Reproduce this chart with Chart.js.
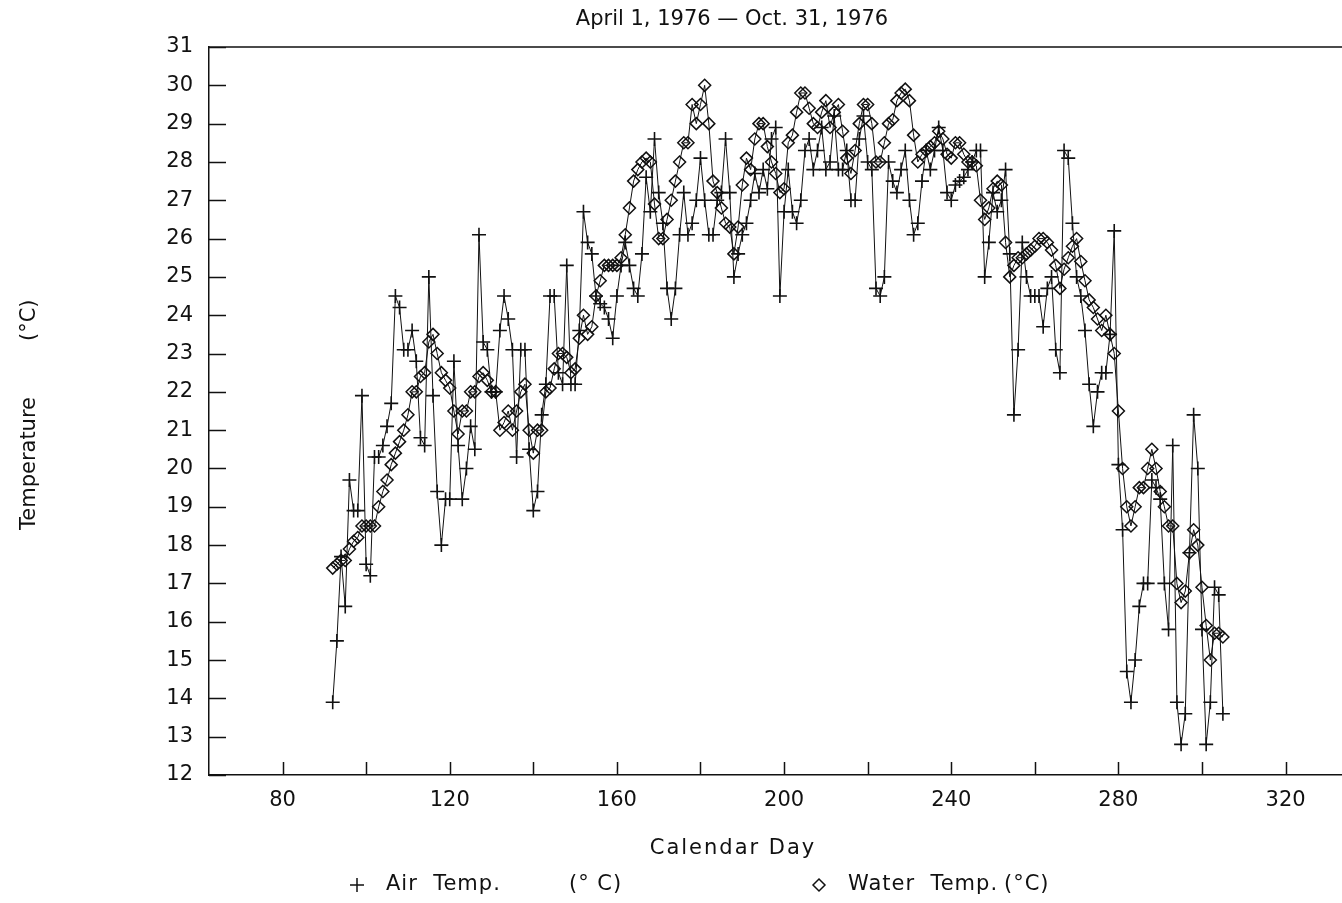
<!DOCTYPE html>
<html>
<head>
<meta charset="utf-8">
<title>Air and water temperature, 1976</title>
<script src="https://cdn.jsdelivr.net/npm/chart.js@4.4.1/dist/chart.umd.min.js"></script>
<style>
  html, body { margin: 0; padding: 0; background: #fff; }
  #wrap { width: 1342px; height: 903px; }
</style>
</head>
<body>
<div id="wrap"><canvas id="tempChart" width="1342" height="903"></canvas></div>
<script>
// daily readings, calendar day 92 (April 1) to 305 (Oct. 31)
const firstDay = 92;

const airTemp = [
  13.9, 15.5, 17.7, 16.4, 19.7, 18.9, 18.9, 21.9, 17.5, 17.2,   // 92-101
  20.3, 20.3, 20.6, 21.1, 21.7, 24.5, 24.2, 23.1, 23.1, 23.6,   // 102-111
  22.8, 20.8, 20.6, 25.0, 21.9, 19.4, 18.0, 19.2, 19.2, 22.8,   // 112-121
  20.6, 19.2, 20.0, 21.1, 20.5, 26.1, 23.3, 23.1, 22.0, 22.0,   // 122-131
  23.6, 24.5, 23.9, 23.1, 20.3, 23.1, 23.1, 20.5, 18.9, 19.4,   // 132-141
  21.4, 22.2, 24.5, 24.5, 22.5, 22.2, 25.3, 22.2, 22.2, 23.6,   // 142-151
  26.7, 25.9, 25.6, 24.5, 24.3, 24.2, 23.9, 23.4, 24.5, 25.3,   // 152-161
  25.9, 25.3, 24.7, 24.5, 25.6, 27.6, 26.7, 28.6, 27.2, 26.4,   // 162-171
  24.7, 23.9, 24.7, 26.1, 27.2, 26.1, 26.4, 27.0, 28.1, 27.0,   // 172-181
  26.1, 26.1, 27.0, 27.2, 28.6, 27.2, 25.0, 25.6, 26.1, 26.4,   // 182-191
  27.0, 27.7, 27.2, 27.8, 27.3, 28.6, 28.9, 24.5, 26.7, 27.8,   // 192-201
  26.7, 26.4, 27.0, 28.3, 28.6, 27.8, 28.3, 28.9, 27.8, 28.0,   // 202-211
  29.2, 27.8, 27.8, 28.3, 27.0, 27.0, 28.6, 29.2, 28.0, 27.8,   // 212-221
  24.7, 24.5, 25.0, 28.0, 27.5, 27.2, 27.8, 28.3, 27.0, 26.1,   // 222-231
  26.4, 27.5, 28.3, 27.8, 28.3, 28.9, 28.3, 27.2, 27.0, 27.4,   // 232-241
  27.5, 27.6, 27.8, 28.0, 28.3, 28.3, 25.0, 25.9, 27.2, 26.7,   // 242-251
  27.0, 27.8, 25.6, 21.4, 23.1, 25.9, 25.0, 24.5, 24.5, 24.5,   // 252-261
  23.7, 24.7, 25.0, 23.1, 22.5, 28.3, 28.1, 26.4, 25.0, 24.5,   // 262-271
  23.6, 22.2, 21.1, 22.0, 22.5, 22.5, 23.5, 26.2, 20.1, 18.4,   // 272-281
  14.7, 13.9, 15.0, 16.4, 17.0, 17.0, 19.7, 19.5, 19.2, 17.0,   // 282-291
  15.8, 20.6, 13.9, 12.8, 13.6, 17.8, 21.4, 20.0, 15.8, 12.8,   // 292-301
  13.9, 16.9, 16.7, 13.6                                        // 302-305
];

const waterTemp = [
  17.4, 17.5, 17.6, 17.6, 17.9, 18.1, 18.2, 18.5, 18.5, 18.5,   // 92-101
  18.5, 19.0, 19.4, 19.7, 20.1, 20.4, 20.7, 21.0, 21.4, 22.0,   // 102-111
  22.0, 22.4, 22.5, 23.3, 23.5, 23.0, 22.5, 22.3, 22.1, 21.5,   // 112-121
  20.9, 21.5, 21.5, 22.0, 22.0, 22.4, 22.5, 22.3, 22.0, 22.0,   // 122-131
  21.0, 21.2, 21.5, 21.0, 21.5, 22.0, 22.2, 21.0, 20.4, 21.0,   // 132-141
  21.0, 22.0, 22.1, 22.6, 23.0, 23.0, 22.9, 22.5, 22.6, 23.4,   // 142-151
  24.0, 23.5, 23.7, 24.5, 24.9, 25.3, 25.3, 25.3, 25.3, 25.5,   // 152-161
  26.1, 26.8, 27.5, 27.8, 28.0, 28.1, 28.0, 26.9, 26.0, 26.0,   // 162-171
  26.5, 27.0, 27.5, 28.0, 28.5, 28.5, 29.5, 29.0, 29.5, 30.0,   // 172-181
  29.0, 27.5, 27.2, 26.8, 26.4, 26.3, 25.6, 26.3, 27.4, 28.1,   // 182-191
  27.8, 28.6, 29.0, 29.0, 28.4, 28.0, 27.7, 27.2, 27.3, 28.5,   // 192-201
  28.7, 29.3, 29.8, 29.8, 29.4, 29.0, 28.9, 29.3, 29.6, 28.9,   // 202-211
  29.3, 29.5, 28.8, 28.1, 27.7, 28.3, 29.0, 29.5, 29.5, 29.0,   // 212-221
  28.0, 28.0, 28.5, 29.0, 29.1, 29.6, 29.8, 29.9, 29.6, 28.7,   // 222-231
  28.0, 28.2, 28.3, 28.4, 28.5, 28.8, 28.6, 28.2, 28.1, 28.5,   // 232-241
  28.5, 28.2, 28.0, 28.0, 27.9, 27.0, 26.5, 26.8, 27.3, 27.5,   // 242-251
  27.4, 25.9, 25.0, 25.3, 25.5, 25.5, 25.6, 25.7, 25.8, 26.0,   // 252-261
  26.0, 25.9, 25.7, 25.3, 24.7, 25.2, 25.5, 25.8, 26.0, 25.4,   // 262-271
  24.9, 24.4, 24.2, 23.9, 23.6, 24.0, 23.5, 23.0, 21.5, 20.0,   // 272-281
  19.0, 18.5, 19.0, 19.5, 19.5, 20.0, 20.5, 20.0, 19.4, 19.0,   // 282-291
  18.5, 18.5, 17.0, 16.5, 16.8, 17.8, 18.4, 18.0, 16.9, 15.9,   // 292-301
  15.0, 15.7, 15.7, 15.6                                        // 302-305
];

const dayTicks = [80, 120, 160, 200, 240, 280, 320];   // labelled days
const FONT = "'DejaVu Sans', sans-serif";
const INK = '#111';

const toPoints = vals => vals.map((v, i) => ({ x: firstDay + i, y: v }));

// inward tick marks and the top frame line
const frame = {
  id: 'frame',
  afterDraw(chart) {
    const { ctx, chartArea: a, scales: { x, y } } = chart;
    ctx.save();
    ctx.strokeStyle = INK;
    ctx.lineWidth = 1.5;
    ctx.beginPath();
    x.ticks.forEach(t => {
      const px = Math.round(x.getPixelForValue(t.value)) + 0.5;
      ctx.moveTo(px, a.bottom);
      ctx.lineTo(px, a.bottom - 13);
    });
    y.ticks.forEach(t => {
      const py = Math.round(y.getPixelForValue(t.value)) + 0.5;
      ctx.moveTo(a.left, py);
      ctx.lineTo(a.left + 17, py);
    });
    ctx.moveTo(a.left, a.top);
    ctx.lineTo(a.right, a.top);
    ctx.stroke();
    ctx.restore();
  }
};

// title, axis titles and key
const labels = {
  id: 'labels',
  afterDraw(chart) {
    const ctx = chart.ctx;
    const h = Chart.helpers;
    ctx.save();
    ctx.fillStyle = INK;
    ctx.strokeStyle = INK;
    ctx.font = '21px ' + FONT;
    ctx.textBaseline = 'middle';
    ctx.textAlign = 'center';
    ctx.fillText('April 1, 1976 \u2014 Oct. 31, 1976', 732, 20);
    ctx.letterSpacing = '2px';
    ctx.fillText('Calendar Day', 733, 849);
    ctx.letterSpacing = '0px';

    // y title, written upwards, with a wide gap before the unit
    ctx.save();
    ctx.translate(30, 0);
    ctx.rotate(-Math.PI / 2);
    ctx.textAlign = 'left';
    ctx.fillText('Temperature', -530, 0);
    ctx.fillText('(\u00b0C)', -341, 0);
    ctx.restore();

    // key
    ctx.textAlign = 'left';
    ctx.lineWidth = 1.5;
    h.drawPoint(ctx, { pointStyle: 'cross', radius: 7, borderWidth: 1.5 }, 357, 885);
    ctx.letterSpacing = '1px';
    ctx.fillText('Air  Temp.', 386, 885);
    ctx.fillText('(\u00b0 C)', 569, 885);
    ctx.fillStyle = 'rgba(255,255,255,0)';
    h.drawPoint(ctx, { pointStyle: 'rectRot', radius: 6, borderWidth: 1.5 }, 819, 885);
    ctx.fillStyle = INK;
    ctx.fillText('Water  Temp.', 848, 885);
    ctx.fillText('(\u00b0C)', 1004, 885);
    ctx.restore();
  }
};

new Chart(document.getElementById('tempChart'), {
  type: 'line',
  data: {
    datasets: [
      {
        label: 'Air Temp. (\u00b0C)',
        data: toPoints(airTemp),
        borderColor: INK,
        borderWidth: 1,
        pointStyle: 'cross',
        pointRadius: 7,
        pointBorderWidth: 1.6,
        pointBorderColor: INK,
        tension: 0
      },
      {
        label: 'Water Temp. (\u00b0C)',
        data: toPoints(waterTemp),
        borderColor: INK,
        borderWidth: 1,
        pointStyle: 'rectRot',
        pointRadius: 6,
        pointBorderWidth: 1.5,
        pointBorderColor: INK,
        pointBackgroundColor: 'rgba(255,255,255,0)',
        tension: 0
      }
    ]
  },
  options: {
    responsive: false,
    animation: false,
    layout: { autoPadding: false, padding: { top: 47, left: 0, right: 0, bottom: 0 } },
    plugins: {
      legend: { display: false },
      title: { display: false },
      tooltip: { enabled: false }
    },
    scales: {
      x: {
        type: 'linear',
        min: 62.4,
        max: 333.5,
        grid: { display: false, drawTicks: false },
        border: { display: true, color: INK, width: 1.5 },
        ticks: {
          stepSize: 20,
          includeBounds: false,
          autoSkip: false,
          maxRotation: 0,
          padding: 13,
          color: INK,
          font: { family: FONT, size: 21 },
          callback: v => (dayTicks.includes(v) ? String(v) : '')
        },
        afterFit: s => { s.height = 128; }
      },
      y: {
        min: 12,
        max: 31,
        grid: { display: false, drawTicks: false },
        border: { display: true, color: INK, width: 1.5 },
        ticks: {
          stepSize: 1,
          autoSkip: false,
          padding: 16,
          color: INK,
          font: { family: FONT, size: 21 }
        },
        afterFit: s => { s.width = 209; }
      }
    }
  },
  plugins: [frame, labels]
});
</script>
</body>
</html>
